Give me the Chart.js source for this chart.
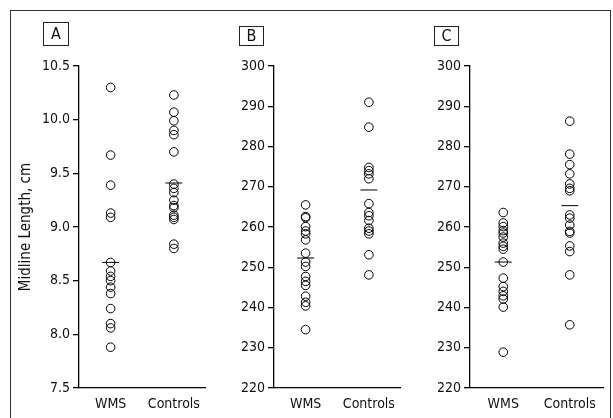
<!DOCTYPE html>
<html>
<head>
<meta charset="utf-8">
<script src="https://cdn.jsdelivr.net/npm/chart.js@4/dist/chart.umd.min.js"></script>
<style>
  body { margin: 0; background: #fff; }
  #wrap { position: relative; width: 613px; height: 418px; overflow: hidden; }
  #frame { position: absolute; left: 10px; top: 10px; width: 601px; height: 420px; border: 1px solid #333; box-sizing: border-box; }
  canvas { position: absolute; top: 0; }
  .tag { position: absolute; border: 1px solid #222; box-sizing: border-box; text-align: center;
         font-family: 'DejaVu Sans Condensed', 'Liberation Sans', sans-serif; font-size: 16px; color: #111; }
</style>
</head>
<body>
<div id="wrap">
  <div id="frame"></div>
  <canvas id="chartA" width="215" height="418" style="left:0px"></canvas>
  <canvas id="chartB" width="195" height="418" style="left:215px"></canvas>
  <canvas id="chartC" width="203" height="418" style="left:410px"></canvas>
  <div class="tag" style="left:43px;top:22px;width:26px;height:24px;line-height:22px">A</div>
  <div class="tag" style="left:239px;top:26px;width:25px;height:20px;line-height:18px">B</div>
  <div class="tag" style="left:434px;top:26px;width:25px;height:20px;line-height:18px">C</div>
</div>
<script>
// カテゴリ
const categories = ['WMS', 'Controls'];

// パネルA：Midline Length, cm
const wmsA = [10.30, 9.67, 9.39, 9.13, 9.09, 8.67, 8.59, 8.54, 8.50, 8.44, 8.38, 8.24, 8.10, 8.06, 7.88];
const controlsA = [10.23, 10.07, 9.99, 9.90, 9.86, 9.70, 9.40, 9.36, 9.32, 9.25, 9.20, 9.18, 9.11, 9.09, 9.07, 8.84, 8.80];
const meanA = [8.67, 9.41];
const ticksA = [7.5, 8.0, 8.5, 9.0, 9.5, 10.0, 10.5];

// パネルB
const wmsB = [265.5, 262.6, 262.3, 260.1, 259.0, 258.3, 256.8, 253.5, 251.3, 250.2, 247.7, 246.5, 245.5, 242.8, 241.3, 240.4, 234.5];
const controlsB = [291.0, 284.8, 274.8, 274.0, 273.2, 272.0, 265.8, 263.6, 262.8, 261.6, 259.7, 259.0, 258.3, 253.1, 248.1];
const meanB = [252.3, 269.2];

// パネルC
const wmsC = [263.6, 261.0, 260.1, 259.1, 258.5, 257.5, 256.0, 255.2, 254.5, 251.3, 247.3, 245.2, 244.0, 242.9, 242.1, 240.1, 228.9];
const controlsC = [286.3, 278.1, 275.5, 273.2, 270.7, 269.6, 269.0, 263.0, 262.2, 260.5, 258.9, 258.5, 255.3, 253.9, 248.1, 235.7];
const meanC = [251.3, 265.3];

const ticksBC = [220, 230, 240, 250, 260, 270, 280, 290, 300];

const FONT = "'DejaVu Sans Condensed', 'Liberation Sans', sans-serif";

function toPoints(cat, values) {
  return values.map(v => ({ x: cat, y: v }));
}

// 1パネル分のチャートを作る
function drawPanel(id, wms, controls, means, ticks, opts) {
  const ctx = document.getElementById(id).getContext('2d');
  const dotStyle = {
    showLine: false,
    pointStyle: 'circle',
    pointRadius: 4.3,
    pointBorderWidth: 1,
    pointBorderColor: '#000',
    pointBackgroundColor: 'rgba(0,0,0,0)',
  };
  return new Chart(ctx, {
    type: 'line',
    data: {
      labels: categories,
      datasets: [
        Object.assign({ data: toPoints(categories[0], wms) }, dotStyle),
        Object.assign({ data: toPoints(categories[1], controls) }, dotStyle),
        {
          data: categories.map((c, i) => ({ x: c, y: means[i] })),
          showLine: false,
          pointStyle: 'line',
          pointRadius: 8.5,
          pointBorderWidth: 1,
          pointBorderColor: '#000',
        },
      ],
    },
    options: {
      responsive: false,
      animation: false,
      events: [],
      layout: { padding: { top: 66, right: opts.padRight, left: 0, bottom: 0 } },
      plugins: { legend: { display: false }, tooltip: { enabled: false } },
      scales: {
        x: {
          type: 'category',
          offset: true,
          grid: { display: false, drawTicks: false },
          border: { display: true, color: '#000', width: 1.3 },
          ticks: { color: '#111', font: { family: FONT, size: 14 }, padding: 8, autoSkip: false, maxRotation: 0, minRotation: 0 },
          afterFit: s => { s.height = 30; },
        },
        y: {
          min: ticks[0],
          max: ticks[ticks.length - 1],
          afterBuildTicks: s => { s.ticks = ticks.map(v => ({ value: v })); },
          grid: { display: true, drawOnChartArea: false, drawTicks: true, tickLength: 6, color: '#000', lineWidth: 1.3 },
          border: { display: true, color: '#000', width: 1.3 },
          ticks: {
            color: '#111',
            padding: 3,
            autoSkip: false,
            font: { family: FONT, size: 14 },
            callback: v => opts.decimals ? Number(v).toFixed(1) : String(v),
          },
          title: opts.title ? {
            display: true,
            text: opts.title,
            color: '#111',
            font: { family: FONT, size: 15 },
            padding: { top: 17, bottom: 0 },
          } : { display: false },
          afterFit: s => { s.width = opts.axisWidth; },
        },
      },
    },
  });
}

drawPanel('chartA', wmsA, controlsA, meanA, ticksA, { padRight: 2, axisWidth: 79, decimals: true, title: 'Midline Length, cm' });
drawPanel('chartB', wmsB, controlsB, meanB, ticksBC, { padRight: 2, axisWidth: 59 });
drawPanel('chartC', wmsC, controlsC, meanC, ticksBC, { padRight: 10, axisWidth: 60 });
</script>
</body>
</html>
